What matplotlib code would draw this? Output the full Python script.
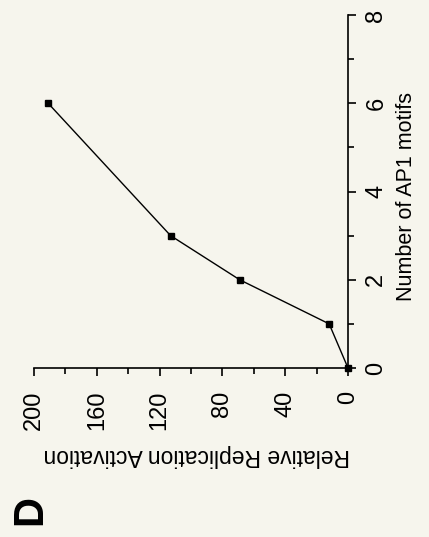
import matplotlib

matplotlib.use("Agg")
import matplotlib.pyplot as plt
from matplotlib.ticker import MultipleLocator

# data: number of AP1 motifs vs relative replication activation
motifs = [0, 1, 2, 3, 6]
activation = [0, 12, 69, 113, 191]

motif_ticks = [0, 2, 4, 6, 8]
act_ticks = [0, 40, 80, 120, 160, 200]

BG = "#f6f5ed"
plt.rcParams["font.family"] = ["Liberation Sans", "DejaVu Sans"]

# the panel is printed rotated 90 deg CCW: activation runs right-to-left
# along the bottom, motif count runs upward along the right edge
fig = plt.figure(figsize=(4.29, 5.37), dpi=100, facecolor=BG)
ax = fig.add_axes([34 / 429, 1 - 368 / 537, 314 / 429, 353 / 537])
ax.set_facecolor(BG)

ax.plot(activation, motifs, color="black", lw=1.0, marker="s",
        markersize=4.5, clip_on=False, zorder=3)

ax.set_xlim(200, 0)
ax.set_ylim(0, 8)

for s in ("top", "left"):
    ax.spines[s].set_visible(False)
for s in ("bottom", "right"):
    ax.spines[s].set_linewidth(1.2)

ax.yaxis.tick_right()
ax.set_xticks(act_ticks)
ax.set_yticks(motif_ticks)
ax.xaxis.set_minor_locator(MultipleLocator(20))
ax.yaxis.set_minor_locator(MultipleLocator(1))
ax.tick_params(which="major", direction="out", length=5.5, width=1.2,
               labelsize=17)
ax.tick_params(which="minor", direction="out", length=4, width=1.2)
for lab in ax.get_xticklabels():
    lab.set_rotation(90)
    lab.set_ha("center")
    lab.set_va("top")
for lab in ax.get_yticklabels():
    lab.set_rotation(90)
    lab.set_ha("left")
    lab.set_va("center")
ax.tick_params(axis="x", pad=11)
ax.tick_params(axis="y", pad=7)

fig.text(406 / 429, 1 - 196 / 537, "Number of AP1 motifs", rotation=90,
         ha="center", va="center", fontsize=15.5)
fig.text(197 / 429, 1 - 455 / 537, "Relative Replication Activation",
         rotation=180, ha="center", va="center", fontsize=16.5)
fig.text(30 / 429, 1 - 510 / 537, "D", rotation=90, ha="center",
         va="center", fontsize=30, fontweight="bold")

fig.savefig("out.png", dpi=100, facecolor=BG)
